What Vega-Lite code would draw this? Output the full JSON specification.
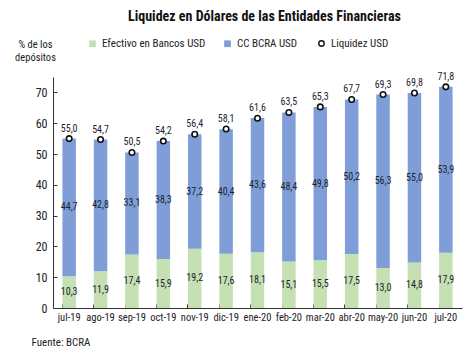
{
  "$schema": "https://vega.github.io/schema/vega-lite/v6.json",
  "width": 409,
  "height": 231,
  "autosize": {"type": "none"},
  "padding": {"left": 53, "top": 77, "right": 12, "bottom": 47},
  "background": "white",
  "config": {
    "font": "Roboto Condensed, Liberation Sans Narrow, DejaVu Sans Condensed, Roboto, sans-serif",
    "view": {"stroke": null},
    "locale": {"number": {"decimal": ",", "thousands": ".", "grouping": [3], "currency": ["$", ""]}},
    "axisY": {
      "values": [0, 10, 20, 30, 40, 50, 60, 70],
      "format": "d",
      "labelOverlap": false,
      "grid": false,
      "labelFontSize": 12,
      "labelColor": "#222",
      "tickSize": -4,
      "tickColor": "#333",
      "domainColor": "#333",
      "labelPadding": 10
    }
  },
  "title": {
    "text": "Liquidez en Dólares de las Entidades Financieras",
    "fontSize": 14,
    "fontWeight": "bold",
    "color": "#111",
    "anchor": "middle",
    "offset": 14,
    "dx": 7
  },
  "datasets": {
    "bars": [
      {"mes": "jul-19", "serie": "Efectivo en Bancos USD", "orden": 1, "valor": 10.3},
      {"mes": "jul-19", "serie": "CC BCRA USD", "orden": 2, "valor": 44.7},
      {"mes": "ago-19", "serie": "Efectivo en Bancos USD", "orden": 1, "valor": 11.9},
      {"mes": "ago-19", "serie": "CC BCRA USD", "orden": 2, "valor": 42.8},
      {"mes": "sep-19", "serie": "Efectivo en Bancos USD", "orden": 1, "valor": 17.4},
      {"mes": "sep-19", "serie": "CC BCRA USD", "orden": 2, "valor": 33.1},
      {"mes": "oct-19", "serie": "Efectivo en Bancos USD", "orden": 1, "valor": 15.9},
      {"mes": "oct-19", "serie": "CC BCRA USD", "orden": 2, "valor": 38.3},
      {"mes": "nov-19", "serie": "Efectivo en Bancos USD", "orden": 1, "valor": 19.2},
      {"mes": "nov-19", "serie": "CC BCRA USD", "orden": 2, "valor": 37.2},
      {"mes": "dic-19", "serie": "Efectivo en Bancos USD", "orden": 1, "valor": 17.6},
      {"mes": "dic-19", "serie": "CC BCRA USD", "orden": 2, "valor": 40.4},
      {"mes": "ene-20", "serie": "Efectivo en Bancos USD", "orden": 1, "valor": 18.1},
      {"mes": "ene-20", "serie": "CC BCRA USD", "orden": 2, "valor": 43.6},
      {"mes": "feb-20", "serie": "Efectivo en Bancos USD", "orden": 1, "valor": 15.1},
      {"mes": "feb-20", "serie": "CC BCRA USD", "orden": 2, "valor": 48.4},
      {"mes": "mar-20", "serie": "Efectivo en Bancos USD", "orden": 1, "valor": 15.5},
      {"mes": "mar-20", "serie": "CC BCRA USD", "orden": 2, "valor": 49.8},
      {"mes": "abr-20", "serie": "Efectivo en Bancos USD", "orden": 1, "valor": 17.5},
      {"mes": "abr-20", "serie": "CC BCRA USD", "orden": 2, "valor": 50.2},
      {"mes": "may-20", "serie": "Efectivo en Bancos USD", "orden": 1, "valor": 13.0},
      {"mes": "may-20", "serie": "CC BCRA USD", "orden": 2, "valor": 56.3},
      {"mes": "jun-20", "serie": "Efectivo en Bancos USD", "orden": 1, "valor": 14.8},
      {"mes": "jun-20", "serie": "CC BCRA USD", "orden": 2, "valor": 55.0},
      {"mes": "jul-20", "serie": "Efectivo en Bancos USD", "orden": 1, "valor": 17.9},
      {"mes": "jul-20", "serie": "CC BCRA USD", "orden": 2, "valor": 53.9}
    ],
    "total": [
      {"mes": "jul-19", "serie": "Liquidez USD", "valor": 55.0},
      {"mes": "ago-19", "serie": "Liquidez USD", "valor": 54.7},
      {"mes": "sep-19", "serie": "Liquidez USD", "valor": 50.5},
      {"mes": "oct-19", "serie": "Liquidez USD", "valor": 54.2},
      {"mes": "nov-19", "serie": "Liquidez USD", "valor": 56.4},
      {"mes": "dic-19", "serie": "Liquidez USD", "valor": 58.1},
      {"mes": "ene-20", "serie": "Liquidez USD", "valor": 61.6},
      {"mes": "feb-20", "serie": "Liquidez USD", "valor": 63.5},
      {"mes": "mar-20", "serie": "Liquidez USD", "valor": 65.3},
      {"mes": "abr-20", "serie": "Liquidez USD", "valor": 67.7},
      {"mes": "may-20", "serie": "Liquidez USD", "valor": 69.3},
      {"mes": "jun-20", "serie": "Liquidez USD", "valor": 69.8},
      {"mes": "jul-20", "serie": "Liquidez USD", "valor": 71.8}
    ]
  },
  "encoding": {
    "x": {
      "field": "mes",
      "type": "nominal",
      "sort": null,
      "scale": {"paddingInner": 0.57, "paddingOuter": 0.3},
      "axis": {
        "title": "Fuente: BCRA",
        "titleAnchor": "start",
        "titleX": -22,
        "titleY": 28,
        "titleFontSize": 11,
        "titleFontWeight": "normal",
        "titleColor": "#222",
        "titleBaseline": "top",
        "labelAngle": 0,
        "labelFontSize": 10.5,
        "labelColor": "#222",
        "labelPadding": 8,
        "labelOverlap": false,
        "bandPosition": 0,
        "tickSize": -4,
        "tickColor": "#333",
        "domainColor": "#333"
      }
    }
  },
  "layer": [
    {
      "data": {"name": "bars"},
      "mark": {"type": "bar", "color": "#c5e0b3"},
      "encoding": {
        "y": {
          "field": "valor",
          "type": "quantitative",
          "stack": "zero",
          "scale": {"domain": [0, 75], "nice": false},
          "axis": {
            "title": ["% de los", "depósitos"],
            "titleAngle": 0,
            "titleX": -18,
            "titleY": -38,
            "titleAlign": "center",
            "titleBaseline": "top",
            "titleFontSize": 10.5,
            "titleFontWeight": "normal",
            "titleColor": "#222",
            "titleLineHeight": 13,
            "values": [0, 10, 20, 30, 40, 50, 60, 70],
            "tickCount": 8
          }
        },
        "color": {
          "field": "serie",
          "type": "nominal",
          "scale": {
            "domain": ["Efectivo en Bancos USD", "CC BCRA USD"],
            "range": ["#c5e0b3", "#7f9ed8"]
          },
          "legend": {
            "title": null,
            "orient": "none",
            "direction": "horizontal",
            "legendX": 34,
            "legendY": -39,
            "symbolType": "square",
            "symbolSize": 45,
            "labelFontSize": 11,
            "labelColor": "#222",
            "columnPadding": 16,
            "padding": 0
          }
        },
        "order": {"field": "orden"}
      }
    },
    {
      "data": {"name": "bars"},
      "transform": [
        {"stack": "valor", "groupby": ["mes"], "sort": [{"field": "orden"}], "as": ["v0", "v1"]},
        {"fold": ["v0", "v1"], "as": ["extremo", "pos"]},
        {"aggregate": [{"op": "mean", "field": "pos", "as": "medio"}, {"op": "max", "field": "valor", "as": "valor"}], "groupby": ["mes", "serie"]}
      ],
      "mark": {"type": "text", "fontSize": 10, "color": "#1e1e30"},
      "encoding": {
        "y": {"field": "medio", "type": "quantitative"},
        "text": {"field": "valor", "type": "quantitative", "format": ".1f"}
      }
    },
    {
      "data": {"name": "total"},
      "mark": {"type": "point", "shape": "circle", "filled": false, "fill": "white", "strokeWidth": 1.6, "size": 30, "opacity": 1},
      "encoding": {
        "y": {"field": "valor", "type": "quantitative"},
        "stroke": {
          "field": "serie",
          "type": "nominal",
          "scale": {"domain": ["Liquidez USD"], "range": ["#111111"]},
          "legend": {
            "title": null,
            "orient": "none",
            "legendX": 263,
            "legendY": -39,
            "symbolType": "circle",
            "symbolFillColor": "white",
            "symbolStrokeWidth": 1.4,
            "symbolSize": 30,
            "labelFontSize": 11,
            "labelColor": "#222",
            "padding": 0
          }
        }
      }
    },
    {
      "data": {"name": "total"},
      "mark": {"type": "text", "fontSize": 10, "color": "#1e1e30", "dy": -10},
      "encoding": {
        "y": {"field": "valor", "type": "quantitative"},
        "text": {"field": "valor", "type": "quantitative", "format": ".1f"}
      }
    }
  ]
}
